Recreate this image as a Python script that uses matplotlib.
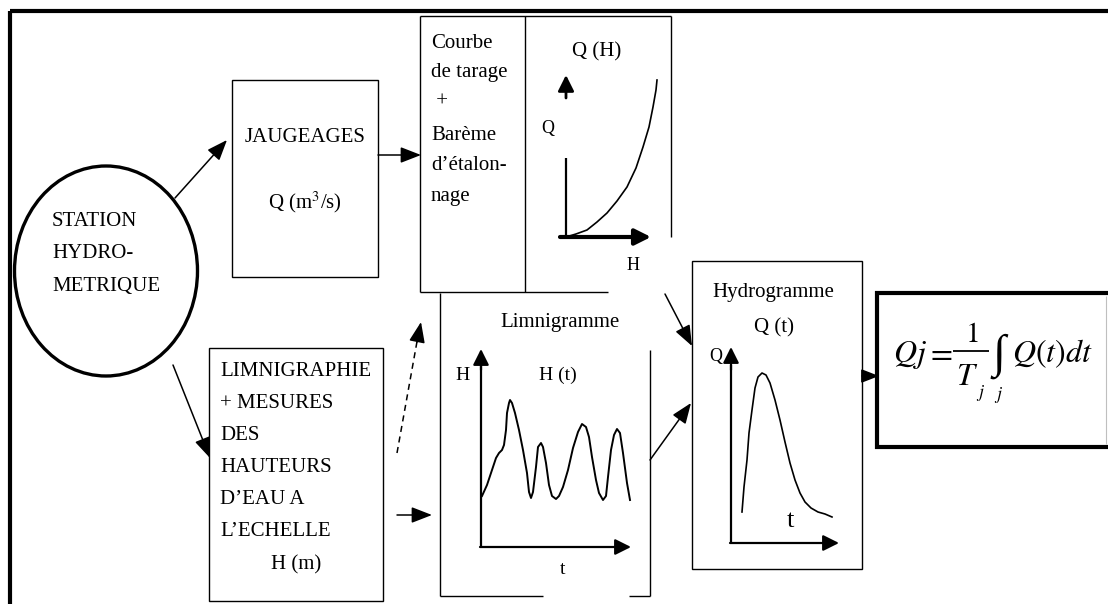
import matplotlib
matplotlib.use("Agg")
import matplotlib.pyplot as plt
from matplotlib.patches import Ellipse, Rectangle

plt.rcParams['font.family'] = ['Liberation Serif', 'DejaVu Serif']
plt.rcParams['mathtext.fontset'] = 'stix'

# courbe de tarage Q(H) (pixels)
tarage_h = [566, 576, 587, 597, 607, 617, 627, 636, 643, 649, 653, 656, 657]
tarage_q = [237, 234, 230, 222, 213, 201, 187, 168, 147, 127, 107, 90, 80]

# limnigramme H(t)
limni_t = [482, 487, 492, 496, 499, 502, 504, 506, 507, 509, 510, 512, 515, 519, 523, 527,
           529, 531, 533, 536, 538, 541, 543, 546, 549, 552, 556, 559, 563, 568, 573, 578,
           582, 586, 589, 592, 596, 599, 603, 606, 608, 611, 614, 617, 620, 623, 627, 630]
limni_h = [496, 485, 470, 458, 453, 450, 445, 430, 413, 403, 400, 403, 413, 430, 450, 473,
           492, 498, 492, 467, 447, 443, 447, 463, 485, 496, 499, 496, 487, 470, 448, 432,
           424, 427, 437, 457, 480, 493, 500, 496, 477, 450, 435, 429, 433, 453, 483, 500]

# hydrogramme Q(t)
hydro_t = [742, 744, 747, 749, 752, 755, 758, 762, 766, 770, 775, 780, 785, 790, 795, 800,
           805, 811, 818, 825, 832]
hydro_q = [512, 487, 460, 433, 410, 388, 377, 373, 375, 383, 400, 420, 442, 463, 480, 493,
           502, 508, 512, 514, 517]

station_lines = ['STATION', 'HYDRO-', 'METRIQUE']
courbe_lines = ['Courbe', 'de tarage', ' +', 'Barème', 'd\u2019étalon-', 'nage']
limni_lines = ['LIMNIGRAPHIE', '+ MESURES', 'DES', 'HAUTEURS', 'D\u2019EAU A', 'L\u2019ECHELLE']

fig = plt.figure(figsize=(11.08, 6.04), dpi=100)
ax = fig.add_axes([0, 0, 1, 1])
ax.set_xlim(0, 1108)
ax.set_ylim(604, 0)
ax.axis('off')

FS = 15


def line(xs, ys, lw=1.0, color='black', **kw):
    ax.plot(xs, ys, color=color, lw=lw, solid_capstyle='butt', **kw)


def arrow(x0, y0, x1, y1, lw=1.1, hl=0.9, hw=0.35, ms=14):
    ax.annotate('', xy=(x1, y1), xytext=(x0, y0),
                arrowprops=dict(arrowstyle=f'-|>,head_length={hl},head_width={hw}',
                                color='black', lw=lw, shrinkA=0, shrinkB=0,
                                mutation_scale=ms))


def box(x0, y0, x1, y1, lw=1.0):
    ax.add_patch(Rectangle((x0, y0), x1 - x0, y1 - y0, fill=False, ec='black', lw=lw))


# cadre exterieur
line([10, 10], [700, 11], lw=3)
line([10, 1200], [11, 11], lw=3)

# station
ax.add_patch(Ellipse((106, 271), 183, 210, fill=False, ec='black', lw=2.4))
for i, s in enumerate(station_lines):
    ax.text(52, 222 + i * 32, s, fontsize=FS, va='center', ha='left')

# jaugeages
box(232, 80, 378, 277)
ax.text(305, 137, 'JAUGEAGES', fontsize=FS, ha='center', va='center')
ax.text(305, 202, 'Q (m$^3$/s)', fontsize=FS, ha='center', va='center')
arrow(175, 198, 227, 140)
arrow(378, 155, 421, 155)

# courbe de tarage
line([420, 420], [16, 292])
line([420, 671], [16, 16])
line([525, 525], [16, 292])
line([671, 671], [16, 237])
line([420, 608], [292, 292])
for i, s in enumerate(courbe_lines):
    ax.text(431, [43, 73, 101, 135, 165, 197][i], s, fontsize=FS, va='center', ha='left')
ax.text(597, 52, 'Q (H)', fontsize=FS, ha='center', va='center')
arrow(566, 98, 566, 75, lw=2, ms=12, hl=0.8, hw=0.4)
ax.text(548, 128, 'Q', fontsize=13, ha='center', va='center')
line([566, 566], [158, 237], lw=1.6)
arrow(560, 237, 651, 237, lw=3, ms=12, hl=0.8, hw=0.4)
ax.text(633, 265, 'H', fontsize=13, ha='center', va='center')
ax.plot(tarage_h, tarage_q, color='black', lw=1.2)

# limnigraphie
box(209, 348, 383, 601)
for i, s in enumerate(limni_lines):
    ax.text(220, [372, 403, 436, 467, 499, 531][i], s, fontsize=FS, va='center', ha='left')
ax.text(296, 565, 'H (m)', fontsize=FS, ha='center', va='center')
arrow(173, 365, 210, 458)
line([397, 418], [453, 336], lw=1.1, linestyle=(0, (4, 3)))
arrow(417, 342, 421, 322)
arrow(397, 515, 432, 515)

# limnigramme
line([440, 440], [293, 596])
line([440, 543], [596, 596])
line([629, 650], [596, 596])
line([650, 650], [350, 596])
ax.text(560, 322, 'Limnigramme', fontsize=FS, ha='center', va='center')
ax.text(463, 375, 'H', fontsize=14, ha='center', va='center')
ax.text(558, 375, 'H (t)', fontsize=14, ha='center', va='center')
line([481, 481], [547, 365], lw=1.6)
arrow(481, 370, 481, 349, lw=1.6, ms=12, hl=0.8, hw=0.4)
arrow(480, 547, 631, 547, lw=1.6, ms=12, hl=0.8, hw=0.4)
ax.text(563, 570, 't', fontsize=14, ha='center', va='center')
ax.plot(limni_t, limni_h, color='black', lw=1.4)

# hydrogramme
box(692, 261, 862, 569)
ax.text(773, 292, 'Hydrogramme', fontsize=FS, ha='center', va='center')
ax.text(774, 328, 'Q (t)', fontsize=FS, ha='center', va='center')
ax.text(716, 357, 'Q', fontsize=13, ha='center', va='center')
line([731, 731], [543, 365], lw=1.6)
arrow(731, 370, 731, 347, lw=1.6, ms=12, hl=0.8, hw=0.4)
arrow(730, 543, 839, 543, lw=1.6, ms=12, hl=0.8, hw=0.4)
ax.text(790, 521, 't', fontsize=19, ha='center', va='center')
ax.plot(hydro_t, hydro_q, color='black', lw=1.2)
arrow(665, 294, 692, 346)
arrow(650, 460, 691, 403)

# debit journalier
arrow(862, 376, 879, 376, ms=12)
line([877, 877], [291, 449], lw=3)
line([875, 1200], [293, 293], lw=3)
line([875, 1200], [447, 447], lw=3)
line([1106, 1106], [296, 444], lw=0.8, color='0.75')
ax.text(893, 362, r'$Qj$', fontsize=23, ha='left', va='baseline')
ax.text(939, 362, r'$=$', fontsize=23, ha='center', va='baseline')
line([953, 989], [351, 351], lw=1.3)
ax.text(972, 342, r'$1$', fontsize=21, ha='center', va='baseline')
ax.text(967, 385, r'$T$', fontsize=23, ha='center', va='baseline')
ax.text(981, 397, r'$j$', fontsize=13, ha='center', va='baseline')
ax.text(999, 356, '\u222b', fontsize=34, ha='center', va='center')
ax.text(999, 399, r'$j$', fontsize=13, ha='center', va='baseline')
ax.text(1012, 362, r'$Q(t)dt$', fontsize=23, ha='left', va='baseline')

fig.savefig('out.png', dpi=100)
